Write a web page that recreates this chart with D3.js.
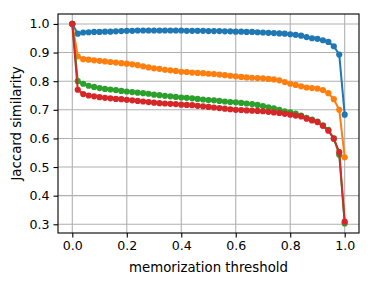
<!DOCTYPE html>
<html>
<head>
<meta charset="utf-8">
<script src="https://cdn.jsdelivr.net/npm/d3@7"></script>
<style>
  html, body { margin: 0; padding: 0; background: #fff; }
  svg { display: block; font-family: "DejaVu Sans", sans-serif; }
</style>
</head>
<body>
<svg id="chart" width="373" height="284"></svg>
<script>
const thresholds = [0.00,0.02,0.04,0.06,0.08,0.10,0.12,0.14,0.16,0.18,0.20,0.22,0.24,0.26,0.28,0.30,0.32,0.34,0.36,0.38,0.40,0.42,0.44,0.46,0.48,0.50,0.52,0.54,0.56,0.58,0.60,0.62,0.64,0.66,0.68,0.70,0.72,0.74,0.76,0.78,0.80,0.82,0.84,0.86,0.88,0.90,0.92,0.94,0.96,0.98,1.00];

const seriesBlue = [1.000,0.966,0.970,0.971,0.972,0.972,0.973,0.973,0.974,0.975,0.976,0.976,0.977,0.977,0.977,0.977,0.977,0.977,0.977,0.977,0.977,0.976,0.976,0.976,0.976,0.975,0.975,0.975,0.974,0.974,0.973,0.973,0.972,0.972,0.971,0.970,0.969,0.968,0.967,0.966,0.964,0.962,0.959,0.954,0.950,0.948,0.943,0.937,0.922,0.893,0.683];

const seriesOrange = [1.000,0.887,0.877,0.875,0.873,0.871,0.869,0.867,0.865,0.863,0.861,0.859,0.856,0.852,0.848,0.845,0.843,0.840,0.838,0.836,0.833,0.832,0.830,0.829,0.828,0.826,0.825,0.823,0.821,0.819,0.817,0.815,0.813,0.812,0.811,0.810,0.808,0.806,0.803,0.797,0.791,0.787,0.782,0.778,0.776,0.774,0.769,0.758,0.737,0.700,0.534];

const seriesGreen = [1.000,0.800,0.791,0.784,0.780,0.776,0.773,0.771,0.769,0.766,0.764,0.762,0.760,0.758,0.756,0.753,0.751,0.749,0.747,0.745,0.743,0.742,0.740,0.738,0.736,0.734,0.733,0.731,0.729,0.727,0.726,0.724,0.722,0.720,0.717,0.713,0.709,0.705,0.700,0.695,0.691,0.687,0.680,0.672,0.666,0.659,0.646,0.630,0.600,0.543,0.303];

const seriesRed = [1.000,0.770,0.755,0.750,0.747,0.744,0.742,0.740,0.738,0.737,0.735,0.733,0.731,0.729,0.727,0.725,0.723,0.722,0.721,0.720,0.718,0.717,0.716,0.714,0.712,0.710,0.708,0.706,0.704,0.702,0.700,0.699,0.698,0.697,0.696,0.695,0.693,0.691,0.689,0.686,0.683,0.680,0.677,0.669,0.663,0.657,0.644,0.627,0.599,0.552,0.309];

const xTicks = [0.0, 0.2, 0.4, 0.6, 0.8, 1.0];
const yTicks = [0.3, 0.4, 0.5, 0.6, 0.7, 0.8, 0.9, 1.0];
const colors = ["#1f77b4", "#ff7f0e", "#2ca02c", "#d62728"];
const xLabel = "memorization threshold";
const yLabel = "Jaccard similarity";

const W = 373, H = 284;
const m = { left: 58, right: 14, top: 14, bottom: 51 };
const iw = W - m.left - m.right, ih = H - m.top - m.bottom;

const svg = d3.select("#chart");
const g = svg.append("g").attr("transform", `translate(${m.left},${m.top})`);

const x = d3.scaleLinear().domain([-0.0525, 1.0525]).range([0, iw]);
const y = d3.scaleLinear().domain([0.2696, 1.0347]).range([ih, 0]);

// grid
g.append("g").selectAll("line").data(xTicks).join("line")
  .attr("x1", d => x(d)).attr("x2", d => x(d))
  .attr("y1", 0).attr("y2", ih)
  .attr("stroke", "#b0b0b0").attr("stroke-width", 1.1);
g.append("g").selectAll("line").data(yTicks).join("line")
  .attr("x1", 0).attr("x2", iw)
  .attr("y1", d => y(d)).attr("y2", d => y(d))
  .attr("stroke", "#b0b0b0").attr("stroke-width", 1.1);

// series
const all = [seriesBlue, seriesOrange, seriesGreen, seriesRed];
const line = d3.line().x((d, i) => x(thresholds[i])).y(d => y(d));
all.forEach((s, k) => {
  const sg = g.append("g");
  sg.append("path").datum(s).attr("d", line)
    .attr("fill", "none").attr("stroke", colors[k]).attr("stroke-width", 2);
  sg.selectAll("circle").data(s).join("circle")
    .attr("cx", (d, i) => x(thresholds[i])).attr("cy", d => y(d))
    .attr("r", 3.1).attr("fill", colors[k]);
});

// axes
const xAxis = d3.axisBottom(x).tickValues(xTicks).tickFormat(d3.format(".1f")).tickSizeOuter(0).tickSize(4.5).tickPadding(4);
const yAxis = d3.axisLeft(y).tickValues(yTicks).tickFormat(d3.format(".1f")).tickSizeOuter(0).tickSize(4.5).tickPadding(4);
const gx = g.append("g").attr("transform", `translate(0,${ih})`).call(xAxis);
const gy = g.append("g").call(yAxis);
[gx, gy].forEach(a => {
  a.select(".domain").remove();
  a.selectAll("text").attr("font-size", 12.6).attr("font-family", "DejaVu Sans").attr("fill", "#000");
  a.selectAll("line").attr("stroke", "#000").attr("stroke-width", 1.1);
});

// frame
g.append("rect").attr("x", 0).attr("y", 0).attr("width", iw).attr("height", ih)
  .attr("fill", "none").attr("stroke", "#000").attr("stroke-width", 1.1);

// labels
svg.append("text").attr("x", m.left + iw / 2).attr("y", 272)
  .attr("text-anchor", "middle").attr("font-size", 13.3).attr("fill", "#000").text(xLabel);
svg.append("text").attr("transform", `translate(21,${m.top + ih / 2}) rotate(-90)`)
  .attr("text-anchor", "middle").attr("font-size", 13.3).attr("fill", "#000").text(yLabel);
</script>
</body>
</html>
